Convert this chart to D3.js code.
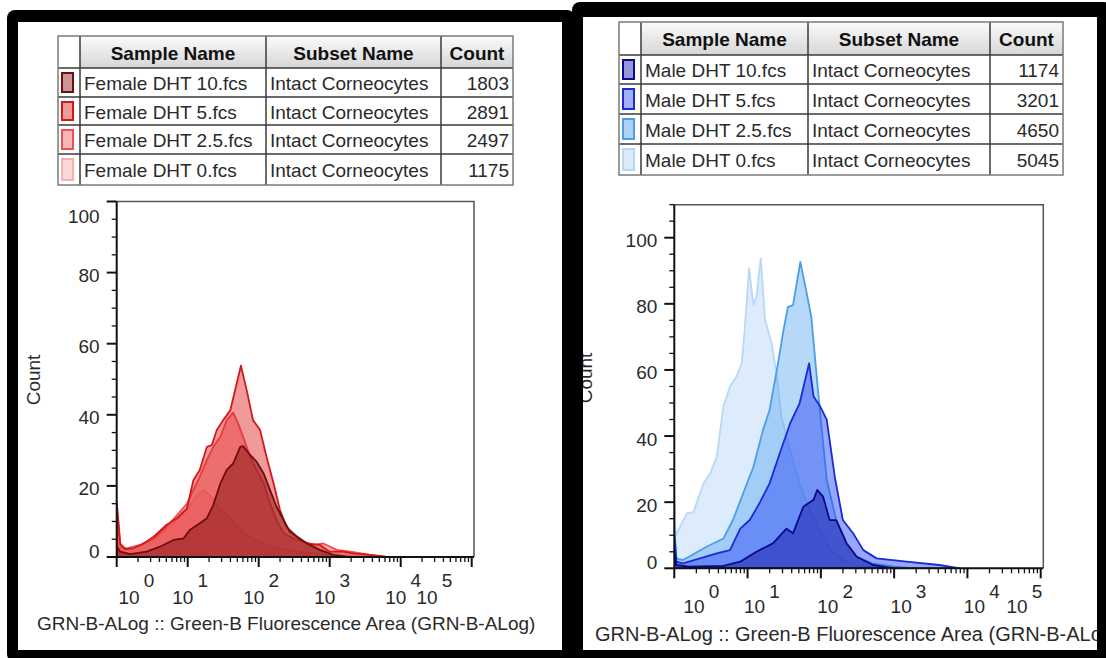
<!DOCTYPE html>
<html>
<head>
<meta charset="utf-8">
<script src="https://cdn.jsdelivr.net/npm/d3@7"></script>
<style>
  body { margin: 0; background: #fff; }
  text { font-family: "Liberation Sans", Arial, sans-serif; fill: #2a2a2a; }
</style>
</head>
<body>
<div id="chart"></div>
<script>
const WIDTH = 1106, HEIGHT = 658;

// table contents
const tableHeaders = ["Sample Name", "Subset Name", "Count"];
const subsetName = "Intact Corneocytes";
const femaleSamples = ["Female DHT 10.fcs", "Female DHT 5.fcs", "Female DHT 2.5.fcs", "Female DHT 0.fcs"];
const femaleCounts = [1803, 2891, 2497, 1175];
const maleSamples = ["Male DHT 10.fcs", "Male DHT 5.fcs", "Male DHT 2.5.fcs", "Male DHT 0.fcs"];
const maleCounts = [1174, 3201, 4650, 5045];

// axis ticks
const xTickExponents = [0, 1, 2, 3, 4, 5];
const yTickValues = [0, 20, 40, 60, 80, 100];
const axisTitle = "GRN-B-ALog :: Green-B Fluorescence Area (GRN-B-ALog)";

// histogram traces, [log10 fluorescence, count]
const female10 = [[0,3],[0.05,1.5],[0.19,0.8],[0.42,1.5],[0.61,2.9],[0.8,4.8],[0.94,5.2],[1.03,7.6],[1.17,9.5],[1.27,10.9],[1.36,14.6],[1.46,20.7],[1.55,24.5],[1.64,26.3],[1.74,31],[1.78,31.2],[1.88,28.7],[1.97,26.8],[2.07,23.5],[2.16,18.8],[2.25,14.2],[2.35,10.4],[2.44,7.1],[2.54,5.7],[2.68,3.8],[2.86,2],[3.05,0.6],[3.24,0.1],[3.5,0]];
const female5 = [[0,15.5],[0.05,3.8],[0.12,2.2],[0.23,2.4],[0.38,3.8],[0.52,5.7],[0.7,9],[0.85,10.9],[0.99,13.7],[1.08,21.6],[1.17,24.5],[1.27,31],[1.34,31.5],[1.41,35.7],[1.5,38.5],[1.6,41.3],[1.69,48.8],[1.75,53.8],[1.83,47],[1.92,38.5],[2.02,35.7],[2.11,28.2],[2.21,20.7],[2.3,13.2],[2.39,8.5],[2.54,5.7],[2.68,3.8],[2.86,3.4],[3.0,1.5],[3.19,1.5],[3.33,1],[3.57,0.6],[3.8,0]];
const female2_5 = [[0,14],[0.05,3],[0.14,2.4],[0.33,3.4],[0.52,5.2],[0.7,8.5],[0.85,11.8],[0.99,15],[1.08,18.8],[1.17,22.6],[1.27,27.3],[1.36,31],[1.46,33.8],[1.55,38.5],[1.64,40.6],[1.71,37.6],[1.78,33.8],[1.88,28.2],[1.97,24.5],[2.07,20.7],[2.16,15],[2.25,10.4],[2.35,6.7],[2.49,5.2],[2.63,4.3],[2.77,3.4],[2.91,3.8],[3.1,2],[3.29,1.5],[3.57,0.6],[3.8,0]];
const female0 = [[0,15],[0.05,4],[0.09,2],[0.23,2.4],[0.42,3.8],[0.61,6.2],[0.8,9.5],[0.99,13.2],[1.13,17.4],[1.22,18.7],[1.31,17.4],[1.46,13.2],[1.6,10.9],[1.74,7.6],[1.92,5.2],[2.11,3.4],[2.3,2.4],[2.54,1.5],[2.86,0.8],[3.24,0.3],[3.5,0]];

const male10 = [[0,5],[0.03,1],[0.2,0.5],[0.67,0.7],[0.9,2],[1.12,5],[1.35,7.6],[1.53,12],[1.62,10.6],[1.76,18.6],[1.9,20.7],[1.95,23.7],[2.03,21.7],[2.12,14.6],[2.21,14.6],[2.35,7.6],[2.49,3.5],[2.71,1],[3.0,0]];
const male5 = [[0,10],[0.03,2],[0.12,1.5],[0.35,3],[0.58,4.5],[0.76,5.5],[0.9,12],[1.03,14.6],[1.17,20],[1.3,25.7],[1.44,34.8],[1.58,43.8],[1.71,49.9],[1.84,62],[1.9,52],[1.99,49],[2.08,45],[2.19,27.7],[2.3,14.6],[2.44,10.6],[2.58,5.5],[2.76,3],[3.17,2],[3.62,1],[3.9,0]];
const male2_5 = [[0,12],[0.03,3],[0.12,2.5],[0.44,6.5],[0.67,9],[0.8,14.6],[0.94,22.7],[1.08,30.7],[1.21,41.8],[1.3,47.9],[1.4,60],[1.49,72],[1.55,79],[1.62,79.6],[1.72,92.7],[1.8,84],[1.87,76],[1.96,54],[2.08,26.7],[2.21,14.6],[2.35,7.6],[2.49,3.5],[2.7,1.5],[3.0,0.5],[3.3,0]];
const male0 = [[0,22],[0.02,10],[0.08,12.6],[0.17,16.6],[0.26,17],[0.4,25.7],[0.49,28.7],[0.58,33.8],[0.67,49],[0.76,55],[0.85,58],[0.92,62],[0.96,72],[1.02,90.7],[1.08,79.6],[1.12,82],[1.18,93.7],[1.24,75],[1.33,68],[1.4,58],[1.46,46],[1.58,35.8],[1.71,25.7],[1.85,17.6],[1.99,11.6],[2.12,6],[2.3,2.5],[2.49,1],[2.8,0]];

// styles, same order as the table rows
const femaleStyles = [
  { fill: "#8c1515", op: 0.55, stroke: "#6e0e0e" },
  { fill: "#e02020", op: 0.45, stroke: "#d41818" },
  { fill: "#f06060", op: 0.5, stroke: "#ee5050" },
  { fill: "#f4a8a8", op: 0.45, stroke: "#f2b0b0" },
];
const maleStyles = [
  { fill: "#1414a8", op: 0.5, stroke: "#0a0a8c" },
  { fill: "#3050f4", op: 0.5, stroke: "#1a2ad8" },
  { fill: "#4aa0f0", op: 0.4, stroke: "#4a9ee8" },
  { fill: "#a8d0f8", op: 0.4, stroke: "#b8d8f6" },
];

const panels = [
  {
    id: "female",
    outer: { x: 7, y: 10, w: 568, h: 652 },
    inner: { x: 18, y: 22, w: 544, h: 628 },
    table: { cols: [58, 80, 266, 441, 513], rows: [36, 68, 97, 125, 154, 185] },
    samples: femaleSamples, counts: femaleCounts,
    series: [female10, female5, female2_5, female0], styles: femaleStyles,
    xRange: [116.7, 471.7], right: 474,
    yRange: [557, 201.5], yTopValue: 100,
    labelDx: -5, labelMin: 129, labelMax: 427, baseY: 604, supY: 587,
    titleX: 37, titleY: 630, titleSize: 19, countX: 40, countY: 380,
  },
  {
    id: "male",
    outer: { x: 572, y: 2, w: 540, h: 662 },
    inner: { x: 583, y: 17, w: 514, h: 633 },
    table: { cols: [619, 641, 808, 990, 1063], rows: [22, 55, 84, 114, 144, 175] },
    samples: maleSamples, counts: maleCounts,
    series: [male10, male5, male2_5, male0], styles: maleStyles,
    xRange: [674.3, 1040.7], right: 1043.3,
    yRange: [568.3, 237.7], yTopValue: 110,
    labelDx: 7, labelMin: 694, labelMax: 1017, baseY: 613, supY: 598,
    titleX: 595, titleY: 641, titleSize: 20, countX: 592, countY: 378,
  },
];

let svg = d3.select("#chart").append("svg").attr("width", WIDTH).attr("height", HEIGHT);
let defs = svg.append("defs");

let grad = defs.append("linearGradient").attr("id", "headGrad").attr("x1", 0).attr("y1", 0).attr("x2", 0).attr("y2", 1);
grad.append("stop").attr("offset", "0%").attr("stop-color", "#fbfbfb");
grad.append("stop").attr("offset", "100%").attr("stop-color", "#d6d6d6");

panels.forEach(function (p) {
  //black screenshot frame
  svg.append("rect")
    .attr("x", p.outer.x).attr("y", p.outer.y)
    .attr("width", p.outer.w).attr("height", p.outer.h)
    .attr("rx", 8).attr("fill", "#000");
  svg.append("rect")
    .attr("x", p.inner.x).attr("y", p.inner.y)
    .attr("width", p.inner.w).attr("height", p.inner.h)
    .attr("fill", "#fff");

  defs.append("clipPath").attr("id", "clip-" + p.id)
    .append("rect")
    .attr("x", p.inner.x).attr("y", p.inner.y)
    .attr("width", p.inner.w).attr("height", p.inner.h);

  let g = svg.append("g").attr("clip-path", "url(#clip-" + p.id + ")");

  drawTable(g, p);
  drawPlot(g, p);
});

function drawTable(g, p) {
  const cx = p.table.cols, ry = p.table.rows;
  let t = g.append("g");

  //header cells
  t.append("rect").attr("x", cx[0]).attr("y", ry[0]).attr("width", cx[1] - cx[0]).attr("height", ry[1] - ry[0]).attr("fill", "#fff");
  tableHeaders.forEach(function (h, i) {
    t.append("rect")
      .attr("x", cx[i + 1]).attr("y", ry[0])
      .attr("width", cx[i + 2] - cx[i + 1]).attr("height", ry[1] - ry[0])
      .attr("fill", "url(#headGrad)");
    t.append("text")
      .attr("x", (cx[i + 1] + cx[i + 2]) / 2)
      .attr("y", (ry[0] + ry[1]) / 2 + 1)
      .attr("text-anchor", "middle")
      .attr("dominant-baseline", "central")
      .attr("font-size", 19).attr("font-weight", "bold")
      .style("fill", "#111")
      .text(h);
  });

  //rows
  p.samples.forEach(function (name, i) {
    let top = ry[i + 1], bottom = ry[i + 2], mid = (top + bottom) / 2 + 1;
    let st = p.styles[i];
    t.append("rect")
      .attr("x", cx[0] + 4).attr("y", top + 5)
      .attr("width", 11).attr("height", bottom - top - 10)
      .attr("fill", st.fill).attr("fill-opacity", 0.45)
      .attr("stroke", st.stroke).attr("stroke-width", 2);
    t.append("text").attr("x", cx[1] + 4).attr("y", mid)
      .attr("dominant-baseline", "central").attr("font-size", 19)
      .text(name);
    t.append("text").attr("x", cx[2] + 4).attr("y", mid)
      .attr("dominant-baseline", "central").attr("font-size", 19)
      .text(subsetName);
    t.append("text").attr("x", cx[4] - 4).attr("y", mid)
      .attr("text-anchor", "end")
      .attr("dominant-baseline", "central").attr("font-size", 19)
      .text(p.counts[i]);
  });

  //grid lines
  ry.forEach(function (y, i) {
    if (i == 0 || i == ry.length - 1) return;
    t.append("line").attr("x1", cx[0]).attr("x2", cx[cx.length - 1]).attr("y1", y).attr("y2", y)
      .attr("stroke", "#3a3a3a").attr("stroke-width", 1.5);
  });
  cx.forEach(function (x, i) {
    if (i == 0 || i == cx.length - 1) return;
    t.append("line").attr("x1", x).attr("x2", x).attr("y1", ry[0]).attr("y2", ry[ry.length - 1])
      .attr("stroke", "#3a3a3a").attr("stroke-width", 1.5);
  });
  t.append("rect")
    .attr("x", cx[0]).attr("y", ry[0])
    .attr("width", cx[cx.length - 1] - cx[0]).attr("height", ry[ry.length - 1] - ry[0])
    .attr("fill", "none").attr("stroke", "#7a7a7a").attr("stroke-width", 1.5);
}

function drawPlot(g, p) {
  let x = d3.scaleLog().domain([1, 1e5]).range(p.xRange);
  let y = d3.scaleLinear().domain([0, 100]).range(p.yRange);
  let y0 = y(0), yTop = y(p.yTopValue), xLeft = p.xRange[0];

  defs.append("clipPath").attr("id", "plot-" + p.id)
    .append("rect").attr("x", xLeft).attr("y", yTop).attr("width", p.right - xLeft).attr("height", y0 - yTop);

  //histograms, bottom one first
  let area = d3.area()
    .x((d) => x(Math.pow(10, d[0])))
    .y0(y0)
    .y1((d) => y(d[1]));
  let h = g.append("g").attr("clip-path", "url(#plot-" + p.id + ")");
  for (let i = p.series.length - 1; i >= 0; i--) {
    let st = p.styles[i];
    h.append("path")
      .datum(p.series[i])
      .attr("d", area)
      .attr("fill", st.fill).attr("fill-opacity", st.op)
      .attr("stroke", st.stroke).attr("stroke-width", 1.8)
      .attr("stroke-linejoin", "round");
  }

  //frame
  g.append("path")
    .attr("d", `M${xLeft},${yTop}H${p.right}V${y0}`)
    .attr("fill", "none").attr("stroke", "#555").attr("stroke-width", 1.5);

  //x axis ticks
  let xAx = g.append("g");
  x.ticks().forEach(function (v) {
    let major = Math.abs(Math.log10(v) - Math.round(Math.log10(v))) < 1e-6;
    xAx.append("line")
      .attr("x1", x(v)).attr("x2", x(v))
      .attr("y1", y0).attr("y2", y0 + (major ? 10 : 5))
      .attr("stroke", "#111").attr("stroke-width", major ? 2 : 1.3);
  });
  xAx.append("line").attr("x1", xLeft).attr("x2", p.right).attr("y1", y0).attr("y2", y0)
    .attr("stroke", "#111").attr("stroke-width", 2);

  xTickExponents.forEach(function (e) {
    let cx = Math.max(p.labelMin, Math.min(p.labelMax, x(Math.pow(10, e)) + p.labelDx));
    xAx.append("text").attr("x", cx).attr("y", p.baseY)
      .attr("text-anchor", "middle").attr("font-size", 19).text("10");
    xAx.append("text").attr("x", cx + 20).attr("y", p.supY)
      .attr("text-anchor", "middle").attr("font-size", 19).text(e);
  });

  xAx.append("text").attr("x", p.titleX).attr("y", p.titleY)
    .attr("font-size", p.titleSize).text(axisTitle);

  //y axis
  let yAx = g.append("g");
  d3.range(0, p.yTopValue + 1, 5).forEach(function (v) {
    let major = v % 20 == 0;
    yAx.append("line")
      .attr("x1", xLeft - (major ? 10 : 5)).attr("x2", xLeft)
      .attr("y1", y(v)).attr("y2", y(v))
      .attr("stroke", "#111").attr("stroke-width", major ? 2 : 1.3);
  });
  yAx.append("line").attr("x1", xLeft).attr("x2", xLeft).attr("y1", yTop).attr("y2", y0)
    .attr("stroke", "#111").attr("stroke-width", 2);

  yTickValues.forEach(function (v) {
    let cy = Math.max(yTop + 14.5, Math.min(y0 - 6, y(v) + 3));
    yAx.append("text")
      .attr("x", xLeft - 17).attr("y", cy)
      .attr("text-anchor", "end").attr("dominant-baseline", "central")
      .attr("font-size", 19).text(v);
  });

  yAx.append("text")
    .attr("transform", `translate(${p.countX},${p.countY}) rotate(-90)`)
    .attr("text-anchor", "middle").attr("font-size", 19)
    .text("Count");
}
</script>
</body>
</html>
